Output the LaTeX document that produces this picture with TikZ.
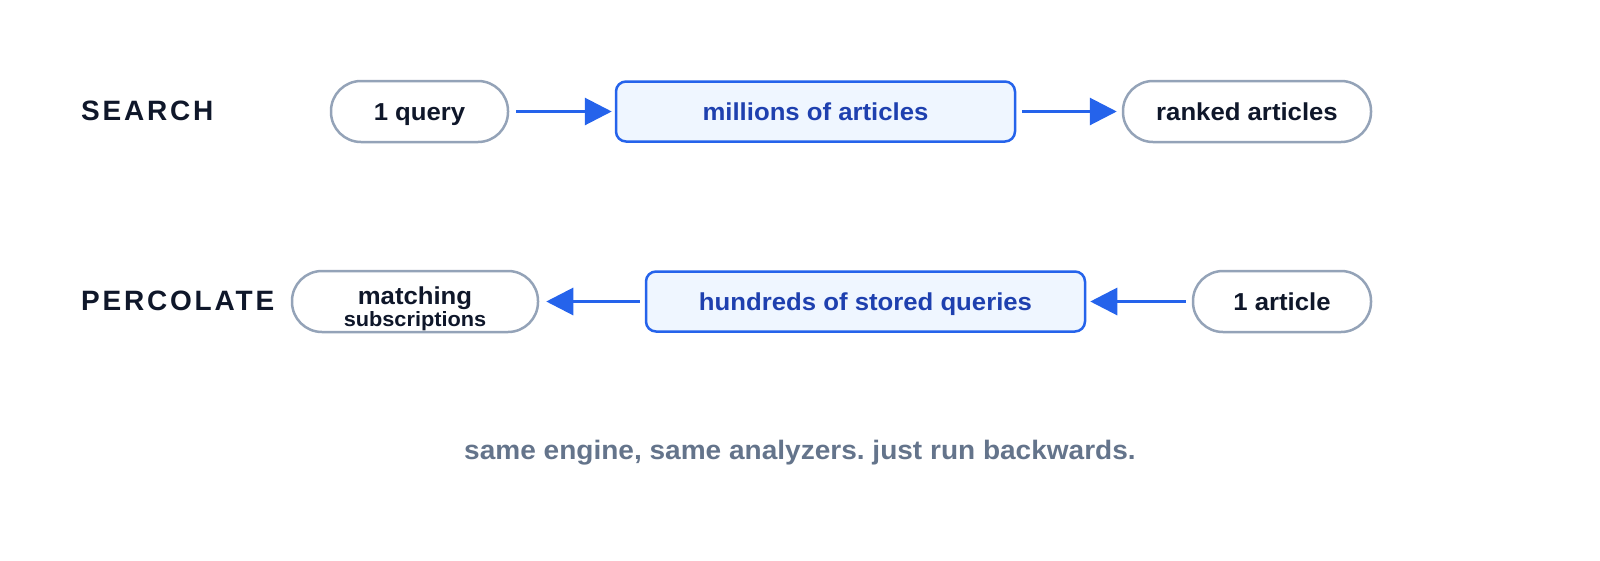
\documentclass[tikz,border=0pt]{standalone}
\usepackage{fontspec}
\setmainfont{Liberation Sans}[FakeStretch=1.05]
\newfontfamily\labelfamily{Liberation Sans}[LetterSpace=10]
\usetikzlibrary{arrows.meta}
\definecolor{ink}{HTML}{0F172A}
\definecolor{pillgray}{HTML}{94A3B8}
\definecolor{flowblue}{HTML}{2563EB}
\definecolor{bluefill}{HTML}{EFF6FF}
\definecolor{bluetext}{HTML}{1E40AF}
\definecolor{notegray}{HTML}{64748B}
\newcommand\boxfont{\fontsize{24.5}{29}\selectfont\bfseries}
\newcommand\subfont{\fontsize{20.7}{24}\selectfont\bfseries}
\newcommand\rowfont{\labelfamily\fontsize{28}{32}\selectfont\bfseries}
\newcommand\notefont{\fontsize{26.7}{31}\selectfont\bfseries}
\frenchspacing
\begin{document}
\begin{tikzpicture}[x=1pt,y=-1pt,
  pill/.style={draw=pillgray, line width=2.5pt, fill=white, rounded corners=30pt,
    minimum height=61pt, inner sep=0pt, font=\boxfont, text=ink,
    text height=17.6pt, text depth=0pt},
  bluebox/.style={draw=flowblue, line width=2.5pt, fill=bluefill, rounded corners=10pt,
    minimum height=60pt, inner sep=0pt, font=\boxfont, text=bluetext,
    text height=17.6pt, text depth=0pt},
  flow/.style={draw=flowblue, line width=3pt, -{Triangle[length=27pt,width=27pt]}},
  rowlabel/.style={anchor=west, inner sep=0pt, font=\rowfont, text=ink,
    text height=20.4pt, text depth=0pt},
  plaintext/.style={anchor=base, inner sep=0pt, text=ink}]
\useasboundingbox (0,0) rectangle (1600,560);
% SEARCH row
\node[rowlabel] (search) at (81,110) {SEARCH};
\node[pill, minimum width=177pt] (query) at (419.5,111.5) {1 query};
\node[bluebox, minimum width=399pt] (millions) at (815.5,111.5) {millions of articles};
\node[pill, minimum width=248pt] (ranked) at (1247,111.5) {ranked articles};
\draw[flow, shorten <=7pt, shorten >=3pt] (query.east) -- (millions.west);
\draw[flow, shorten <=6pt, shorten >=5pt] (millions.east) -- (ranked.west);
% PERCOLATE row
\node[rowlabel] (percolate) at (81,300.5) {PERCOLATE};
\node[pill, minimum width=246pt] (matching) at (415,301.5) {};
\node[plaintext, font=\boxfont] (matchtop) at (415,304) {matching};
\node[plaintext, font=\subfont] (matchbot) at (415,326.5) {subscriptions};
\node[bluebox, minimum width=439pt] (hundreds) at (865.5,301.5) {hundreds of stored queries};
\node[pill, minimum width=178pt] (article) at (1282,301.5) {1 article};
\draw[flow, shorten <=5pt, shorten >=7pt] (hundreds.west) -- (matching.east);
\draw[flow, shorten <=6pt, shorten >=4pt] (article.west) -- (hundreds.east);
% footer
\node[plaintext, font=\notefont, text=notegray] (note) at (800,459)
  {same engine, same analyzers. just run backwards.};
\end{tikzpicture}
\end{document}
